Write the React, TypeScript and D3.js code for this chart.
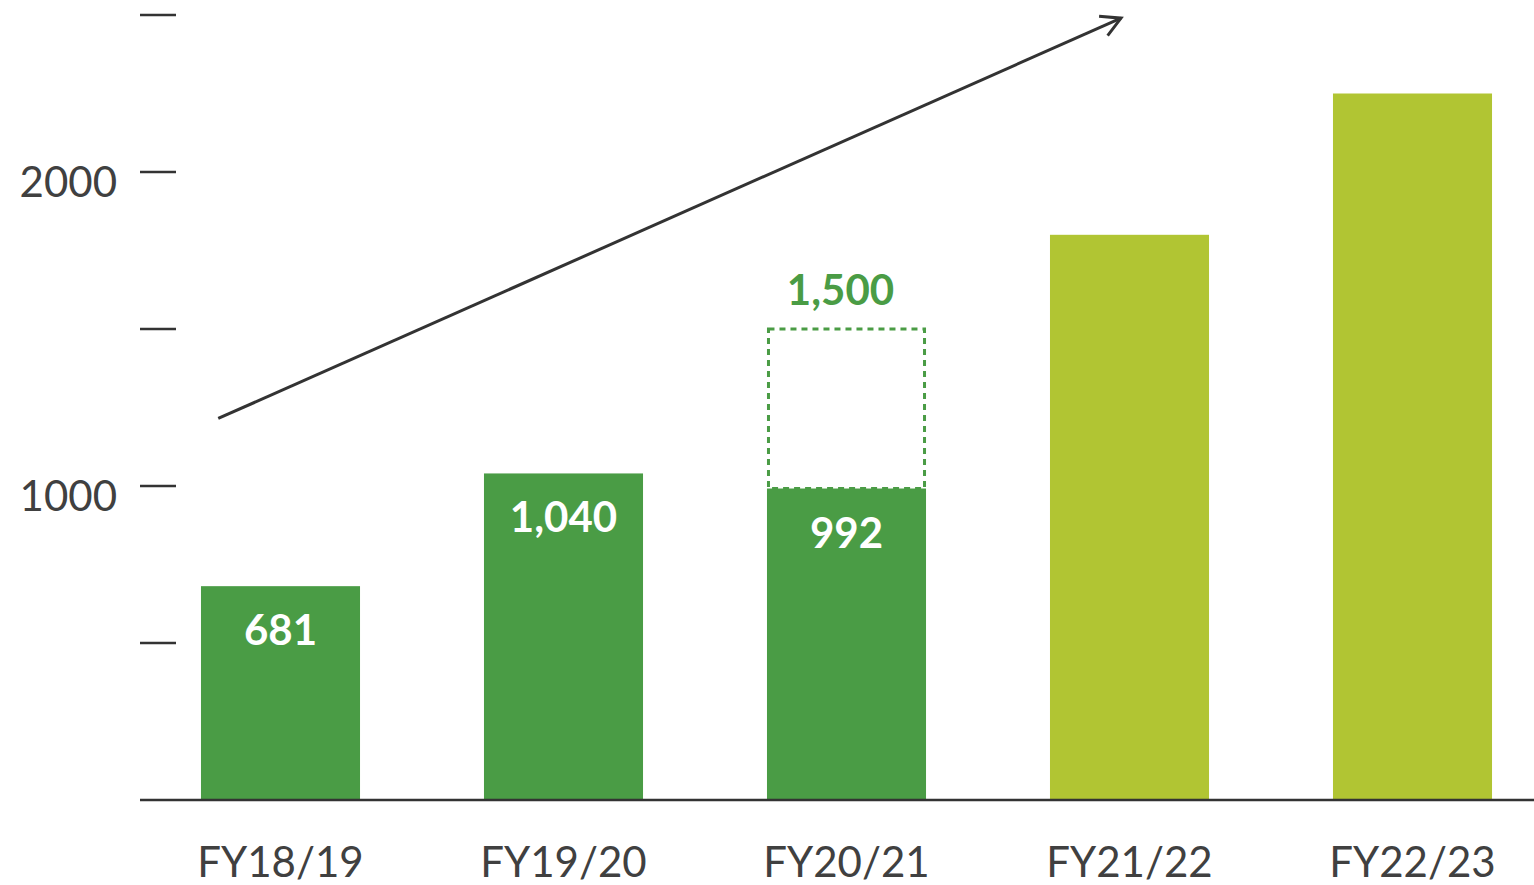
import { useEffect, useRef } from 'react'
import * as d3 from 'd3'

const W = 1534, H = 885
const categories = ['FY18/19', 'FY19/20', 'FY20/21', 'FY21/22', 'FY22/23']
const actual = [681, 1040, 992, null, null]
const forecast = [null, null, null, 1800, 2250]
const target = [null, null, 1500, null, null]
const barLabels = ['681', '1,040', '992', '', '']
const targetLabels = ['', '', '1,500', '', '']
const yTicks = [0, 500, 1000, 1500, 2000, 2500]
const yTickLabels = ['', '', '1000', '', '2000', '']
// trend arrow, in (category index, value) terms
const arrowFrom = { i: -0.22, v: 1215 }
const arrowTo = { i: 2.97, v: 2490 }

const DARK = '#4a9c45'
const LIGHT = '#b1c533'
const INK = '#333333'
const FONT = 'Lato, "Open Sans", sans-serif'

export default function App() {
  const svgRef = useRef<SVGSVGElement>(null)

  useEffect(() => {
    const svg = d3.select(svgRef.current)
    svg.selectAll('*').remove()

    const x = d3.scaleBand<string>().domain(categories).range([139, 1554]).paddingInner(0.438).paddingOuter(0.219)
    const y = d3.scaleLinear([0, 2500], [800, 15])
    const xi = d3.scaleLinear([0, 1], [x(categories[0])! + x.bandwidth() / 2, x(categories[1])! + x.bandwidth() / 2])

    // ticks
    svg.append('g').selectAll('line').data(yTicks.slice(1)).join('line')
      .attr('x1', 140).attr('x2', 176)
      .attr('y1', (d) => y(d)).attr('y2', (d) => y(d))
      .attr('stroke', INK).attr('stroke-width', 2.5)

    svg.append('g').selectAll('text').data(yTicks).join('text')
      .attr('x', 117).attr('y', (d) => y(d) + 25)
      .attr('text-anchor', 'end')
      .attr('font-family', FONT).attr('font-size', 42).attr('fill', '#404040')
      .text((_, i) => yTickLabels[i])

    // bars
    const g = svg.append('g')
    categories.forEach((c, i) => {
      const v = actual[i] ?? forecast[i]
      if (v == null) return
      g.append('rect')
        .attr('x', x(c)!).attr('width', x.bandwidth())
        .attr('y', y(v)).attr('height', y(0) - y(v))
        .attr('fill', actual[i] != null ? DARK : LIGHT)
      if (barLabels[i]) {
        g.append('text')
          .attr('x', x(c)! + x.bandwidth() / 2).attr('y', y(v) + 59)
          .attr('text-anchor', 'middle')
          .attr('font-family', FONT).attr('font-weight', 'bold').attr('font-size', 42).attr('fill', '#fff')
          .text(barLabels[i])
      }
      const t = target[i]
      if (t != null) {
        g.append('rect')
          .attr('x', x(c)! + 1.5).attr('width', x.bandwidth() - 3)
          .attr('y', y(t)).attr('height', y(v) - y(t))
          .attr('fill', 'none').attr('stroke', DARK).attr('stroke-width', 3)
          .attr('stroke-dasharray', '6 5')
        g.append('text')
          .attr('x', x(c)! + x.bandwidth() / 2 - 6).attr('y', y(t) - 24)
          .attr('text-anchor', 'middle')
          .attr('font-family', FONT).attr('font-weight', 'bold').attr('font-size', 42).attr('fill', DARK)
          .text(targetLabels[i])
      }
    })

    // baseline
    svg.append('line')
      .attr('x1', 140).attr('x2', W).attr('y1', y(0)).attr('y2', y(0))
      .attr('stroke', INK).attr('stroke-width', 2.5)

    // x labels
    svg.append('g').selectAll('text').data(categories).join('text')
      .attr('x', (d) => x(d)! + x.bandwidth() / 2).attr('y', 877)
      .attr('text-anchor', 'middle')
      .attr('font-family', FONT).attr('font-size', 42).attr('fill', '#404040')
      .text((d) => d)

    // trend arrow
    const x1 = xi(arrowFrom.i), y1 = y(arrowFrom.v)
    const x2 = xi(arrowTo.i), y2 = y(arrowTo.v)
    svg.append('line')
      .attr('x1', x1).attr('y1', y1).attr('x2', x2).attr('y2', y2)
      .attr('stroke', INK).attr('stroke-width', 3)
    const ang = Math.atan2(y2 - y1, x2 - x1)
    const s = 22, spread = 0.5
    const p1 = [x2 - s * Math.cos(ang - spread), y2 - s * Math.sin(ang - spread)]
    const p2 = [x2 - s * Math.cos(ang + spread), y2 - s * Math.sin(ang + spread)]
    svg.append('path')
      .attr('d', d3.line()([p1 as [number, number], [x2, y2], p2 as [number, number]]))
      .attr('fill', 'none').attr('stroke', INK).attr('stroke-width', 3)
      .attr('stroke-linejoin', 'miter')
  }, [])

  return (
    <svg ref={svgRef} width={W} height={H} viewBox={`0 0 ${W} ${H}`}
      style={{ position: 'absolute', left: 0, top: 0, display: 'block', background: '#fff' }} />
  )
}
